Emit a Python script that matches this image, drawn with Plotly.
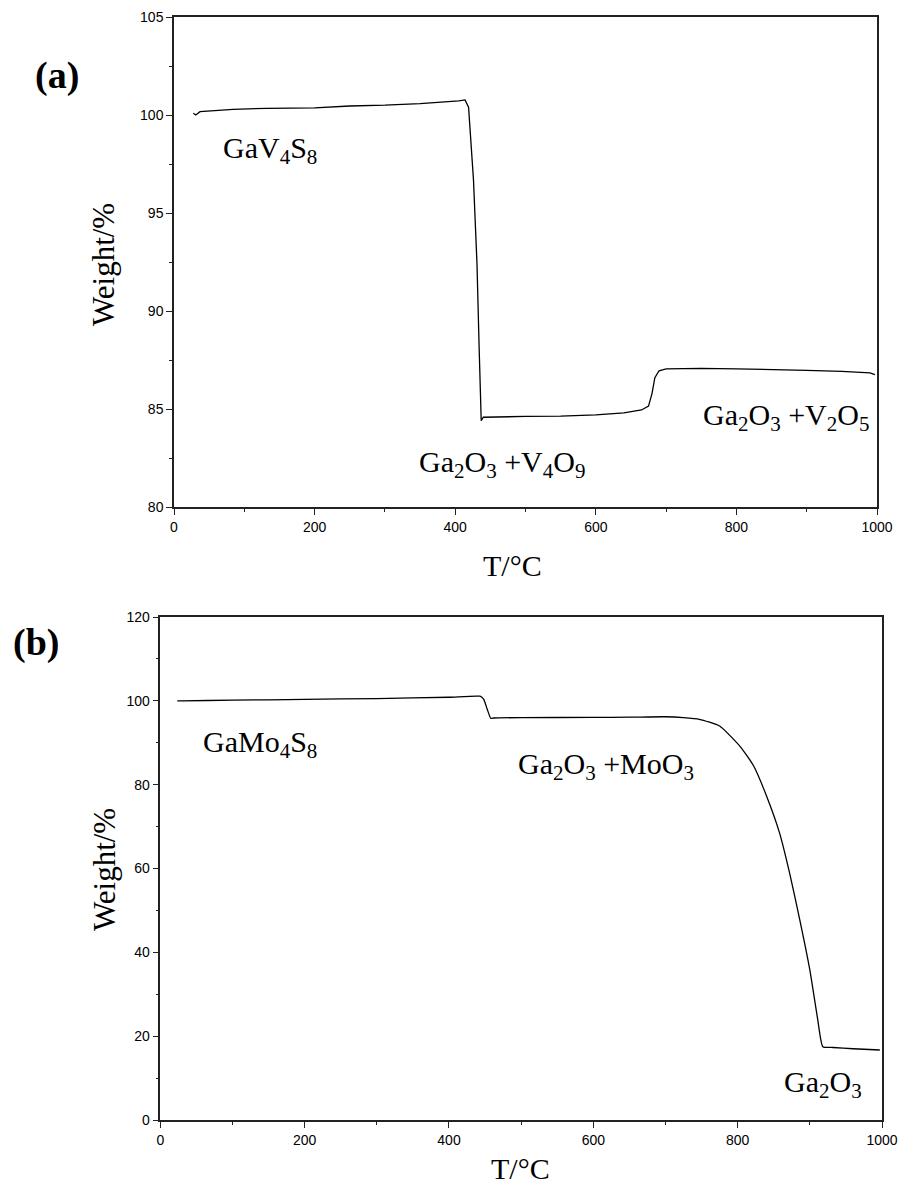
import plotly.graph_objects as go

# ---- Data: panel (a) GaV4S8 TGA ----
T_a = [27.5, 31, 37, 60, 84, 132, 200, 250, 300, 350, 390, 405, 414, 419, 426, 431, 434, 437, 440,
       460, 500, 550, 600, 640, 665, 675, 680, 684, 690, 700, 750, 800, 850, 900, 950, 990, 997]
W_a = [100.09, 100.0, 100.17, 100.23, 100.29, 100.34, 100.36, 100.46, 100.5, 100.58, 100.66, 100.72, 100.77,
       100.4, 96.7, 92.4, 88.2, 84.4, 84.58,
       84.6, 84.62, 84.64, 84.7, 84.8, 84.95, 85.15, 85.8, 86.6, 86.95, 87.05, 87.07, 87.05, 87.02, 86.97, 86.92, 86.84, 86.75]

# ---- Data: panel (b) GaMo4S8 TGA ----
T_b = [23.5, 30, 100, 200, 300, 400, 443, 448, 453, 458, 462, 500, 600, 650, 700, 725, 747, 775, 803,
       822, 840, 858, 872, 886, 900, 911, 918, 932, 960, 997]
W_b = [100.0, 100.0, 100.15, 100.35, 100.55, 100.85, 101.1, 100.4, 98.0, 95.8, 95.9, 96.0, 96.05, 96.1, 96.2,
       96.0, 95.6, 94.0, 89.2, 84.5, 77.3, 68.5, 58.9, 47.8, 35.8, 23.9, 17.5, 17.3, 17.0, 16.7]

labels_a = ["GaV<sub>4</sub>S<sub>8</sub>", "Ga<sub>2</sub>O<sub>3</sub> +V<sub>4</sub>O<sub>9</sub>",
            "Ga<sub>2</sub>O<sub>3</sub> +V<sub>2</sub>O<sub>5</sub>"]
labels_a_T = [137, 466, 871]
labels_a_W = [98.2, 82.2, 84.6]

labels_b = ["GaMo<sub>4</sub>S<sub>8</sub>", "Ga<sub>2</sub>O<sub>3</sub> +MoO<sub>3</sub>",
            "Ga<sub>2</sub>O<sub>3</sub>"]
labels_b_T = [138, 617, 918]
labels_b_W = [89.8, 84.5, 8.5]

SERIF = "Liberation Serif, Times New Roman, serif"
SANS = "Liberation Sans, Arial, sans-serif"
W_PX, H_PX = 901, 1186

fig = go.Figure()
fig.add_trace(go.Scatter(x=T_a, y=W_a, mode="lines", line=dict(color="black", width=1.3),
                         xaxis="x", yaxis="y", showlegend=False))
fig.add_trace(go.Scatter(x=T_b, y=W_b, mode="lines",
                         line=dict(color="black", width=1.3, shape="spline", smoothing=0.5),
                         xaxis="x2", yaxis="y2", showlegend=False))

def px_x(p):
    return p / W_PX

def px_y(p):
    return 1 - p / H_PX

common = dict(showgrid=False, zeroline=False, showline=True, linecolor="#222", linewidth=1.5,
              mirror=True, ticks="outside", ticklen=6, tickwidth=1.2, tickcolor="#222",
              automargin=False,
              tickfont=dict(family=SANS, size=14, color="black"))

fig.update_layout(
    width=W_PX, height=H_PX,
    margin=dict(l=0, r=0, t=0, b=0, autoexpand=False),
    paper_bgcolor="white", plot_bgcolor="white",
    xaxis=dict(domain=[px_x(174), px_x(877)], anchor="y", range=[0, 1000], dtick=200,
               minor=dict(dtick=100, ticks="outside", ticklen=3, tickcolor="#222"), **common),
    yaxis=dict(domain=[px_y(507), px_y(17)], anchor="x", range=[80, 105], dtick=5,
               minor=dict(dtick=2.5, ticks="outside", ticklen=3, tickcolor="#222"), **common),
    xaxis2=dict(domain=[px_x(160.3), px_x(882)], anchor="y2", range=[0, 1000], dtick=200,
                minor=dict(dtick=100, ticks="outside", ticklen=3, tickcolor="#222"), **common),
    yaxis2=dict(domain=[px_y(1120), px_y(617)], anchor="x2", range=[0, 120], dtick=20,
                minor=dict(dtick=10, ticks="outside", ticklen=3, tickcolor="#222"), **common),
)

ann = []
for t, tx, ty in zip(labels_a, labels_a_T, labels_a_W):
    ann.append(dict(text=t, x=tx, y=ty, xref="x", yref="y", showarrow=False,
                    xanchor="center", yanchor="middle",
                    font=dict(family=SERIF, size=30, color="black")))
for t, tx, ty in zip(labels_b, labels_b_T, labels_b_W):
    ann.append(dict(text=t, x=tx, y=ty, xref="x2", yref="y2", showarrow=False,
                    xanchor="center", yanchor="middle",
                    font=dict(family=SERIF, size=30, color="black")))

def paper_text(text, xp, yp, size, angle=0):
    return dict(text=text, x=px_x(xp), y=px_y(yp), xref="paper", yref="paper", showarrow=False,
                xanchor="center", yanchor="middle", textangle=angle,
                font=dict(family=SERIF, size=size, color="black"))

# axis titles and panel labels
ann += [
    paper_text("Weight/%", 104, 265, 31, -90),
    paper_text("T/°C", 512, 565, 30),
    paper_text("Weight/%", 104, 870, 31, -90),
    paper_text("T/°C", 520, 1168, 30),
    paper_text("<b>(a)</b>", 57, 76, 38),
    paper_text("<b>(b)</b>", 36, 642, 38),
]
fig.update_layout(annotations=ann)

fig.write_html("out.html", post_script="document.body.style.margin='0';")
